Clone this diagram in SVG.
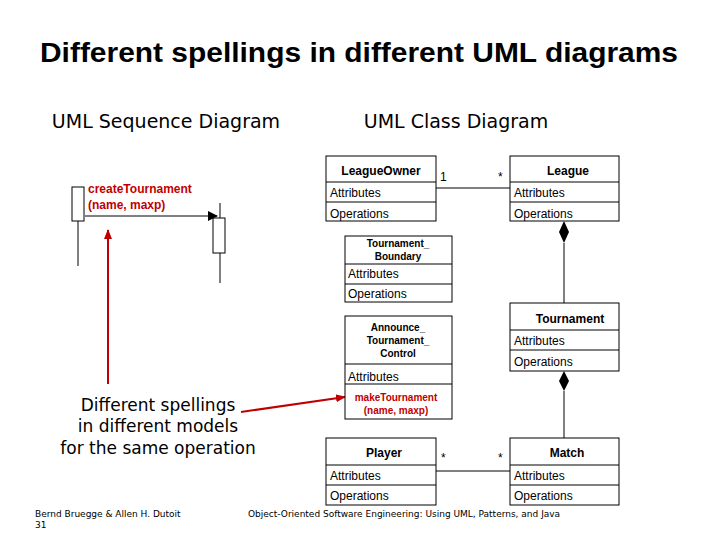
<svg xmlns="http://www.w3.org/2000/svg" width="720" height="540" viewBox="0 0 720 540">
<defs>
<marker id="ah" markerWidth="10" markerHeight="10" refX="9" refY="5" orient="auto" markerUnits="userSpaceOnUse"><path d="M0,0 L10,5 L0,10 z" fill="#000"/></marker>
<marker id="rh" markerWidth="10" markerHeight="8" refX="9" refY="4" orient="auto" markerUnits="userSpaceOnUse"><path d="M0,0 L10,4 L0,8 z" fill="#c00000"/></marker>
<style>
.b{fill:#fff;stroke:#000;stroke-width:1}
.l{stroke:#000;stroke-width:1;fill:none}
.t{font-family:"Liberation Sans",Arial,sans-serif;font-size:12px;fill:#000}
.n{font-family:"Liberation Sans",Arial,sans-serif;font-size:12px;font-weight:bold;fill:#000;text-anchor:middle}
.s{font-family:"Liberation Sans",Arial,sans-serif;font-size:10px;font-weight:bold;fill:#000;text-anchor:middle}
.h{font-family:"DejaVu Sans",sans-serif;font-size:19px;fill:#000}
.r{font-family:"Liberation Sans",Arial,sans-serif;font-weight:bold;fill:#c00000}
</style>
</defs>
<rect width="720" height="540" fill="#fff"/>
<text x="359" y="62" text-anchor="middle" font-family="Liberation Sans,Arial,sans-serif" font-size="27" font-weight="bold" fill="#000" textLength="638" lengthAdjust="spacingAndGlyphs">Different spellings in different UML diagrams</text>
<text class="h" x="166" y="128" text-anchor="middle">UML Sequence Diagram</text>
<text class="h" x="456" y="128" text-anchor="middle">UML Class Diagram</text>

<g id="connectors">
<line class="l" x1="436" y1="188" x2="510" y2="188"/>
<line class="l" x1="564" y1="243" x2="564" y2="303"/>
<path d="M564,221 L569,232 L564,243 L559,232 z" fill="#000"/>
<line class="l" x1="564" y1="391" x2="564" y2="438"/>
<path d="M564,371 L569,381 L564,391 L559,381 z" fill="#000"/>
<line class="l" x1="436" y1="471" x2="510" y2="471"/>
<text class="t" x="440" y="181">1</text>
<text class="t" x="498" y="181">*</text>
<text class="t" x="441" y="462">*</text>
<text class="t" x="498" y="462">*</text>
</g>

<g id="seq">
<line class="l" x1="78" y1="221" x2="78" y2="266"/>
<rect class="b" x="72" y="187" width="12" height="34"/>
<line class="l" x1="220" y1="203" x2="220" y2="283"/>
<rect class="b" x="213" y="218" width="12" height="35"/>
<line class="l" x1="85" y1="216" x2="217" y2="216" marker-end="url(#ah)"/>
<text class="r" font-size="12" x="88" y="193">createTournament</text>
<text class="r" font-size="12" x="88" y="209">(name, maxp)</text>
</g>

<g id="notes">
<line x1="108" y1="384" x2="108" y2="230" stroke="#c00000" stroke-width="2" marker-end="url(#rh)"/>
<line x1="241" y1="412" x2="345" y2="397" stroke="#c00000" stroke-width="2" marker-end="url(#rh)"/>
<g font-family="DejaVu Sans,sans-serif" font-size="17" fill="#000" text-anchor="middle">
<text x="158" y="411">Different spellings</text>
<text x="158" y="432">in different models</text>
<text x="158" y="454">for the same operation</text>
</g>
<text x="35" y="517" font-family="DejaVu Sans,sans-serif" font-size="9">Bernd Bruegge &amp; Allen H. Dutoit</text>
<text x="35" y="528" font-family="DejaVu Sans,sans-serif" font-size="9">31</text>
<text x="248" y="517" font-family="DejaVu Sans,sans-serif" font-size="9">Object-Oriented Software Engineering: Using UML, Patterns, and Java</text>
</g>

<g id="LeagueOwner">
<rect class="b" x="326" y="156" width="110" height="65"/>
<line class="l" x1="326" y1="182" x2="436" y2="182"/><line class="l" x1="326" y1="202" x2="436" y2="202"/>
<text class="n" x="381" y="175">LeagueOwner</text>
<text class="t" x="330" y="197">Attributes</text><text class="t" x="330" y="218">Operations</text>
</g>
<g id="League">
<rect class="b" x="510" y="156" width="109" height="65"/>
<line class="l" x1="510" y1="182" x2="619" y2="182"/><line class="l" x1="510" y1="202" x2="619" y2="202"/>
<text class="n" x="568" y="175">League</text>
<text class="t" x="514" y="197">Attributes</text><text class="t" x="514" y="218">Operations</text>
</g>
<g id="TournamentBoundary">
<rect class="b" x="345" y="236" width="107" height="66"/>
<line class="l" x1="345" y1="264" x2="452" y2="264"/><line class="l" x1="345" y1="284" x2="452" y2="284"/>
<text class="s" x="398" y="247">Tournament_</text><text class="s" x="398" y="260">Boundary</text>
<text class="t" x="348" y="278">Attributes</text><text class="t" x="348" y="298">Operations</text>
</g>
<g id="AnnounceControl">
<rect class="b" x="345" y="316" width="107" height="103"/>
<line class="l" x1="345" y1="364" x2="452" y2="364"/><line class="l" x1="345" y1="384" x2="452" y2="384"/>
<text class="s" x="398" y="331">Announce_</text><text class="s" x="398" y="344">Tournament_</text><text class="s" x="398" y="357">Control</text>
<text class="t" x="348" y="381">Attributes</text>
<text class="r" font-size="10" x="396" y="401" text-anchor="middle">makeTournament</text>
<text class="r" font-size="10" x="396" y="414" text-anchor="middle">(name, maxp)</text>
</g>
<g id="Tournament">
<rect class="b" x="510" y="303" width="109" height="68"/>
<line class="l" x1="510" y1="330" x2="619" y2="330"/><line class="l" x1="510" y1="350" x2="619" y2="350"/>
<text class="n" x="570" y="323">Tournament</text>
<text class="t" x="514" y="345">Attributes</text><text class="t" x="514" y="366">Operations</text>
</g>
<g id="Player">
<rect class="b" x="326" y="438" width="110" height="67"/>
<line class="l" x1="326" y1="465" x2="436" y2="465"/><line class="l" x1="326" y1="485" x2="436" y2="485"/>
<text class="n" x="384" y="457">Player</text>
<text class="t" x="330" y="480">Attributes</text><text class="t" x="330" y="500">Operations</text>
</g>
<g id="Match">
<rect class="b" x="510" y="438" width="109" height="67"/>
<line class="l" x1="510" y1="465" x2="619" y2="465"/><line class="l" x1="510" y1="485" x2="619" y2="485"/>
<text class="n" x="567" y="457">Match</text>
<text class="t" x="514" y="480">Attributes</text><text class="t" x="514" y="500">Operations</text>
</g>
</svg>
